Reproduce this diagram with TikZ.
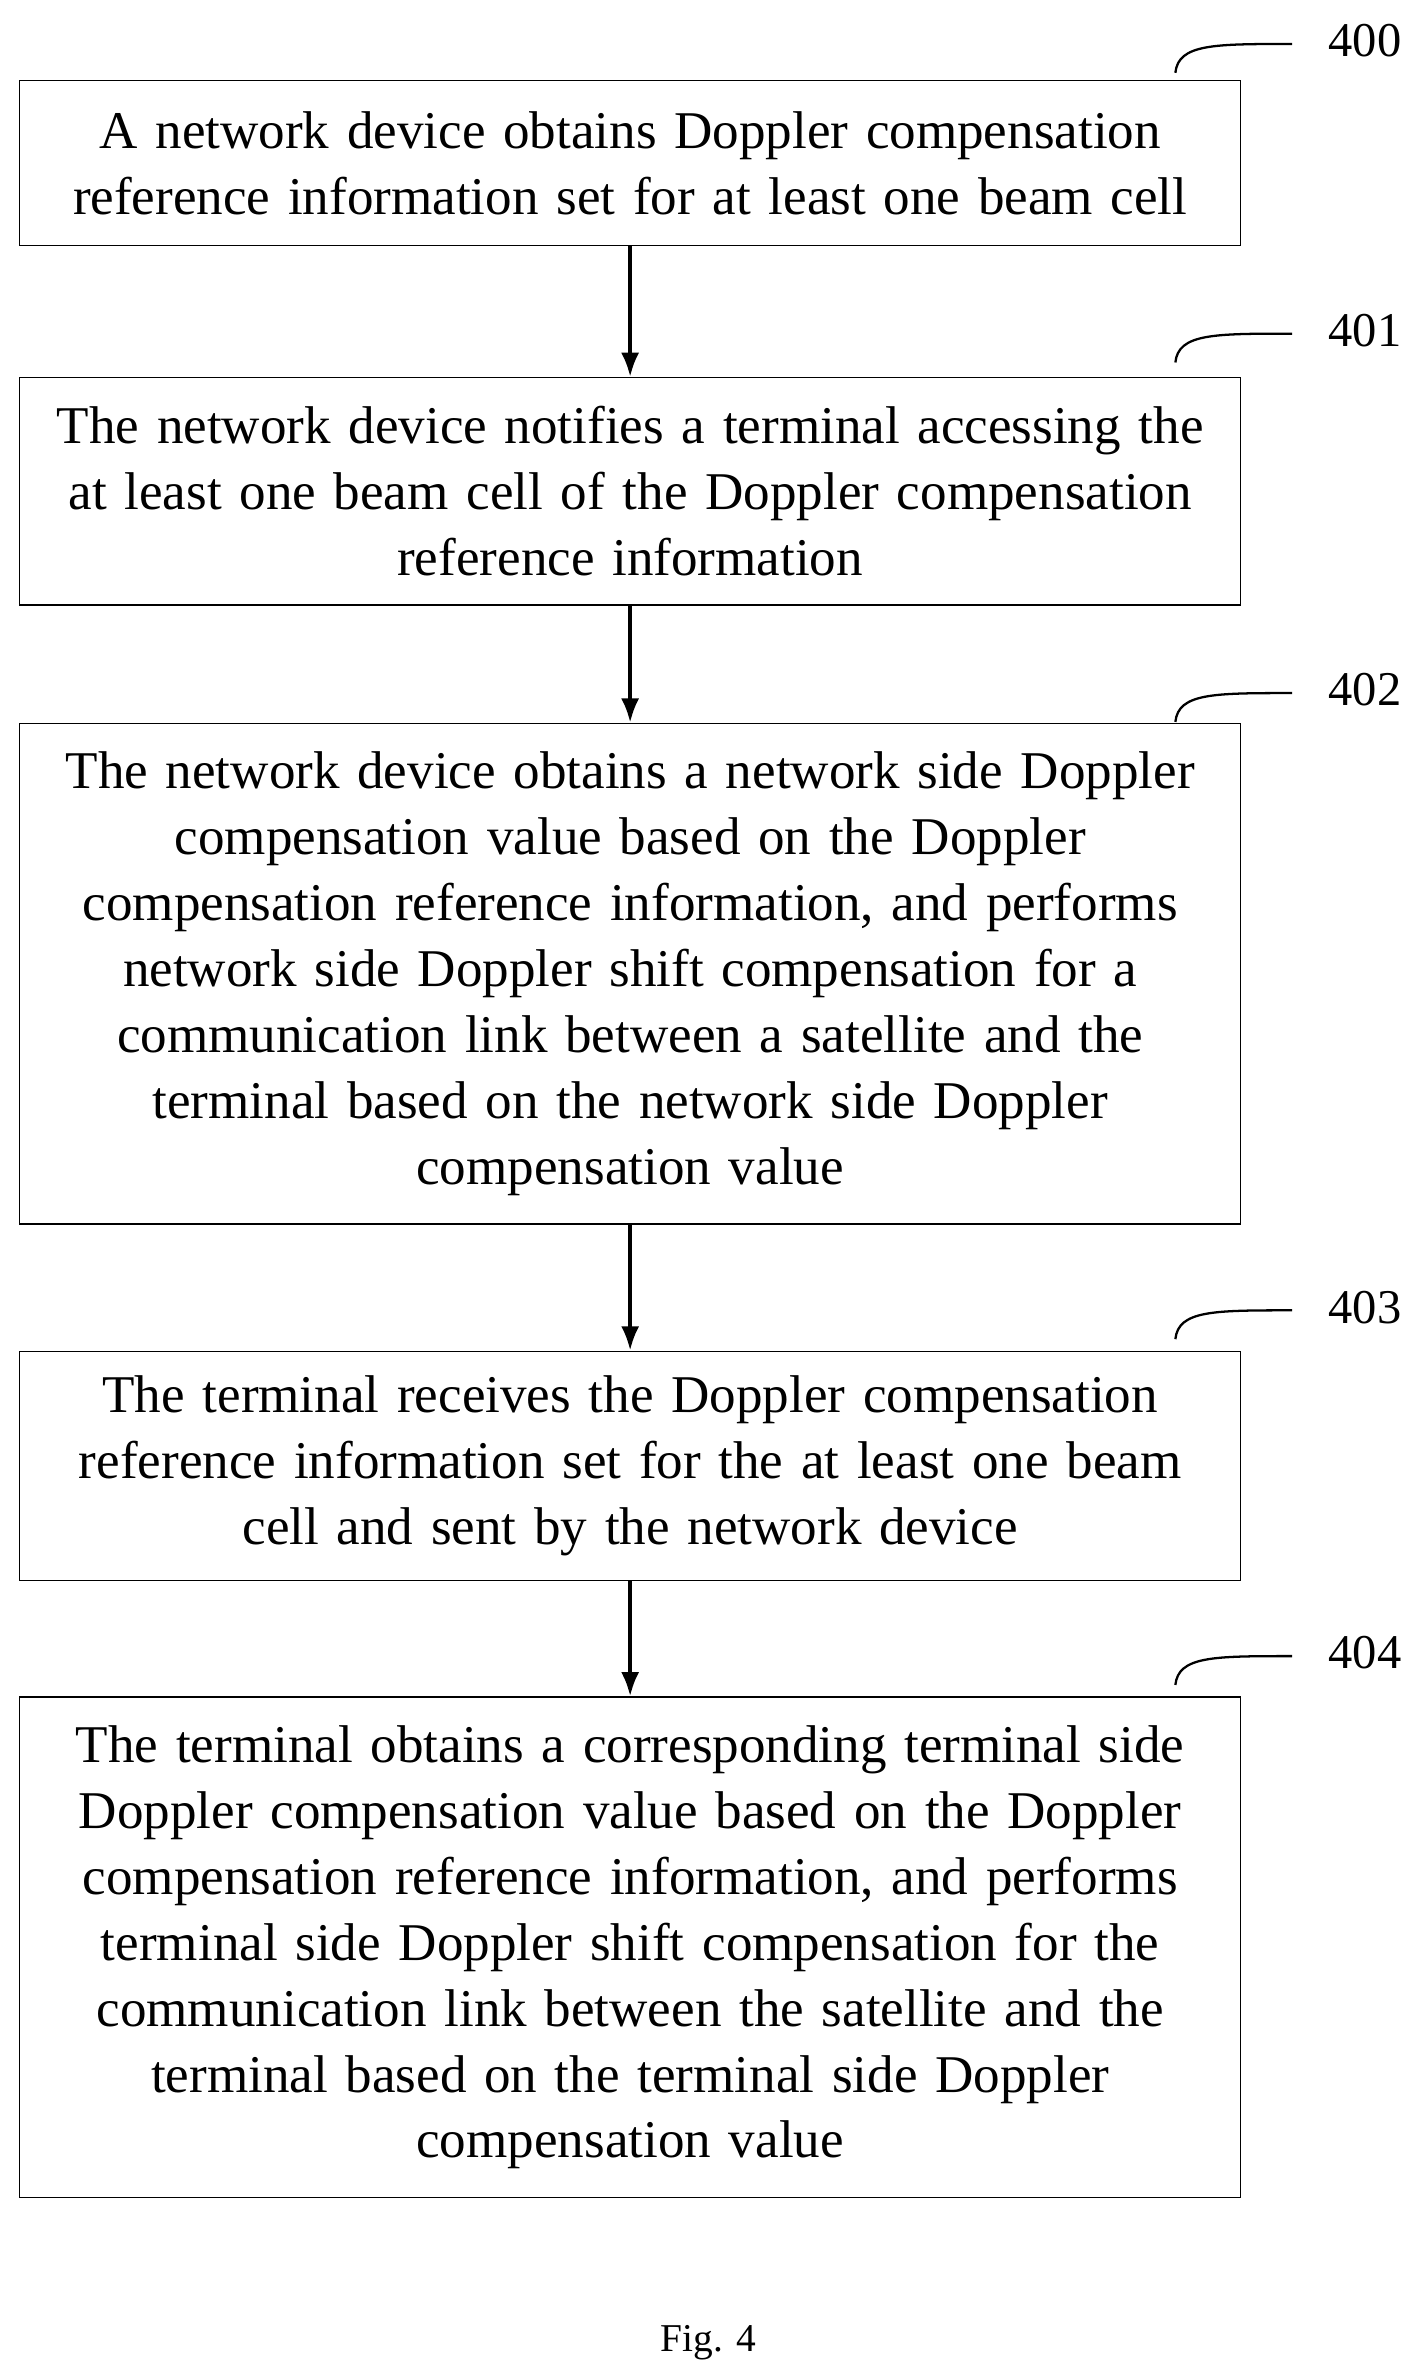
\documentclass[tikz,border=0pt]{standalone}
\usepackage{fontspec}
\setmainfont{Liberation Serif}
\usetikzlibrary{arrows.meta}
\begin{document}
\begin{tikzpicture}[x=1pt,y=-1pt,
  stepbox/.style={draw,line width=1pt,inner sep=0pt,text width=800pt,align=center,font=\fontsize{35}{43.5}\selectfont},
  arr/.style={-{Latex[length=16pt,width=12pt]},line width=2.5pt},
  lbl/.style={font=\fontsize{32}{36}\selectfont}]
\useasboundingbox (0,0) rectangle (940,1568);
\node[stepbox,minimum height=109pt,minimum width=805pt] (b1) at (415.5,107.5) {A network device obtains Doppler compensation\\reference information set for at least one beam cell};
\node[stepbox,minimum height=150pt,minimum width=805pt] (b2) at (415.5,324) {The network device notifies a terminal accessing the\\at least one beam cell of the Doppler compensation\\reference information};
\node[stepbox,minimum height=330pt,minimum width=805pt] (b3) at (415.5,642) {The network device obtains a network side Doppler\\compensation value based on the Doppler\\compensation reference information, and performs\\network side Doppler shift compensation for a\\communication link between a satellite and the\\terminal based on the network side Doppler\\compensation value};
\node[stepbox,minimum height=151pt,minimum width=805pt] (b4) at (415.5,966.5) {The terminal receives the Doppler compensation\\reference information set for the at least one beam\\cell and sent by the network device};
\node[stepbox,minimum height=330pt,minimum width=805pt] (b5) at (415.5,1284) {The terminal obtains a corresponding terminal side\\Doppler compensation value based on the Doppler\\compensation reference information, and performs\\terminal side Doppler shift compensation for the\\communication link between the satellite and the\\terminal based on the terminal side Doppler\\compensation value};
\draw[arr] (b1) -- (b2);
\draw[arr] (b2) -- (b3);
\draw[arr] (b3) -- (b4);
\draw[arr] (b4) -- (b5);
\foreach \n/\y/\t in {400/27/l1,401/218/l2,402/455/l3,403/862/l4,404/1090/l5}{
  \node[lbl] (\t) at (900,\y) {\n};
  \coordinate (s\t) at (775,\y+21);
  \coordinate (e\t) at (852,\y+2);
  \draw[line width=1.5pt] (s\t) .. controls (777,\y+2) and (800,\y+2) .. (e\t);
}
\node[font=\fontsize{26}{30}\selectfont] (cap) at (467,1545) {Fig. 4};
\end{tikzpicture}
\end{document}
